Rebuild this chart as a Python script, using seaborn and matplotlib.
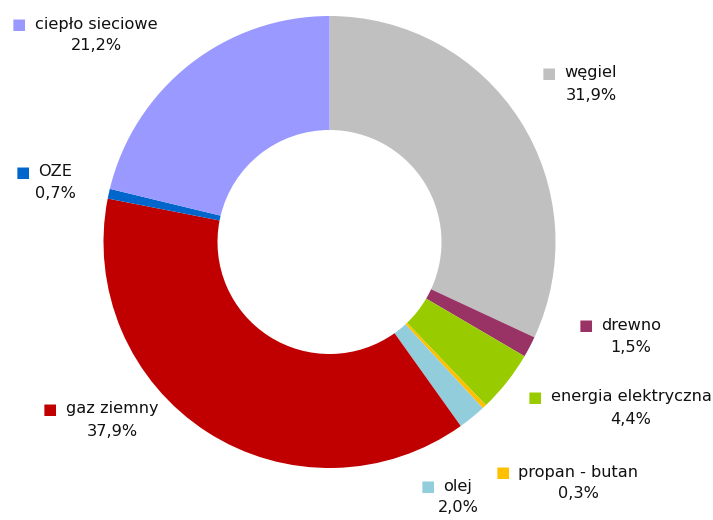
import matplotlib
matplotlib.use("Agg")
import matplotlib.pyplot as plt
import seaborn as sns

# Heating fuel shares (%), listed clockwise from 12 o'clock
categories = ["węgiel", "drewno", "energia elektryczna", "propan - butan",
              "olej", "gaz ziemny", "OZE", "ciepło sieciowe"]
shares = [31.9, 1.5, 4.4, 0.3, 2.0, 37.9, 0.7, 21.2]
colors = ["#c0c0c0", "#993366", "#99cc00", "#ffc000",
          "#92cddc", "#c00000", "#0066cc", "#9999ff"]

# Label text centres in pixel coordinates (x from left, y from top)
label_pos = [(591, 73), (631, 325), (631, 397), (578, 472),
             (458, 486), (112, 409), (55, 172), (96, 24)]

sns.set_theme(style="white")
plt.rcParams["font.family"] = ["DejaVu Sans"]

W, H = 713, 520
fig = plt.figure(figsize=(W / 100, H / 100), dpi=100)
ax = fig.add_axes([0, 0, 1, 1])

palette = sns.color_palette(colors)
ax.pie(shares, colors=palette, startangle=90, counterclock=False,
       center=(329.5, H - 242), radius=226, frame=True,
       wedgeprops=dict(width=114, linewidth=0))
ax.set_xlim(0, W)
ax.set_ylim(0, H)
ax.set_aspect("equal")
ax.axis("off")

for name, val, col, (px, py) in zip(categories, shares, colors, label_pos):
    t = ax.text(px, H - py, name, ha="center", va="center",
                fontsize=11.6, color="#111111")
    ax.annotate("■", xy=(0, 0.45), xycoords=t, xytext=(-6, 0),
                textcoords="offset points", ha="right", va="center",
                fontsize=11, color=col)
    ax.text(px, H - py - 22, f"{val:.1f}%".replace(".", ","),
            ha="center", va="center", fontsize=11.6, color="#111111")

fig.savefig("out.png", dpi=100)
